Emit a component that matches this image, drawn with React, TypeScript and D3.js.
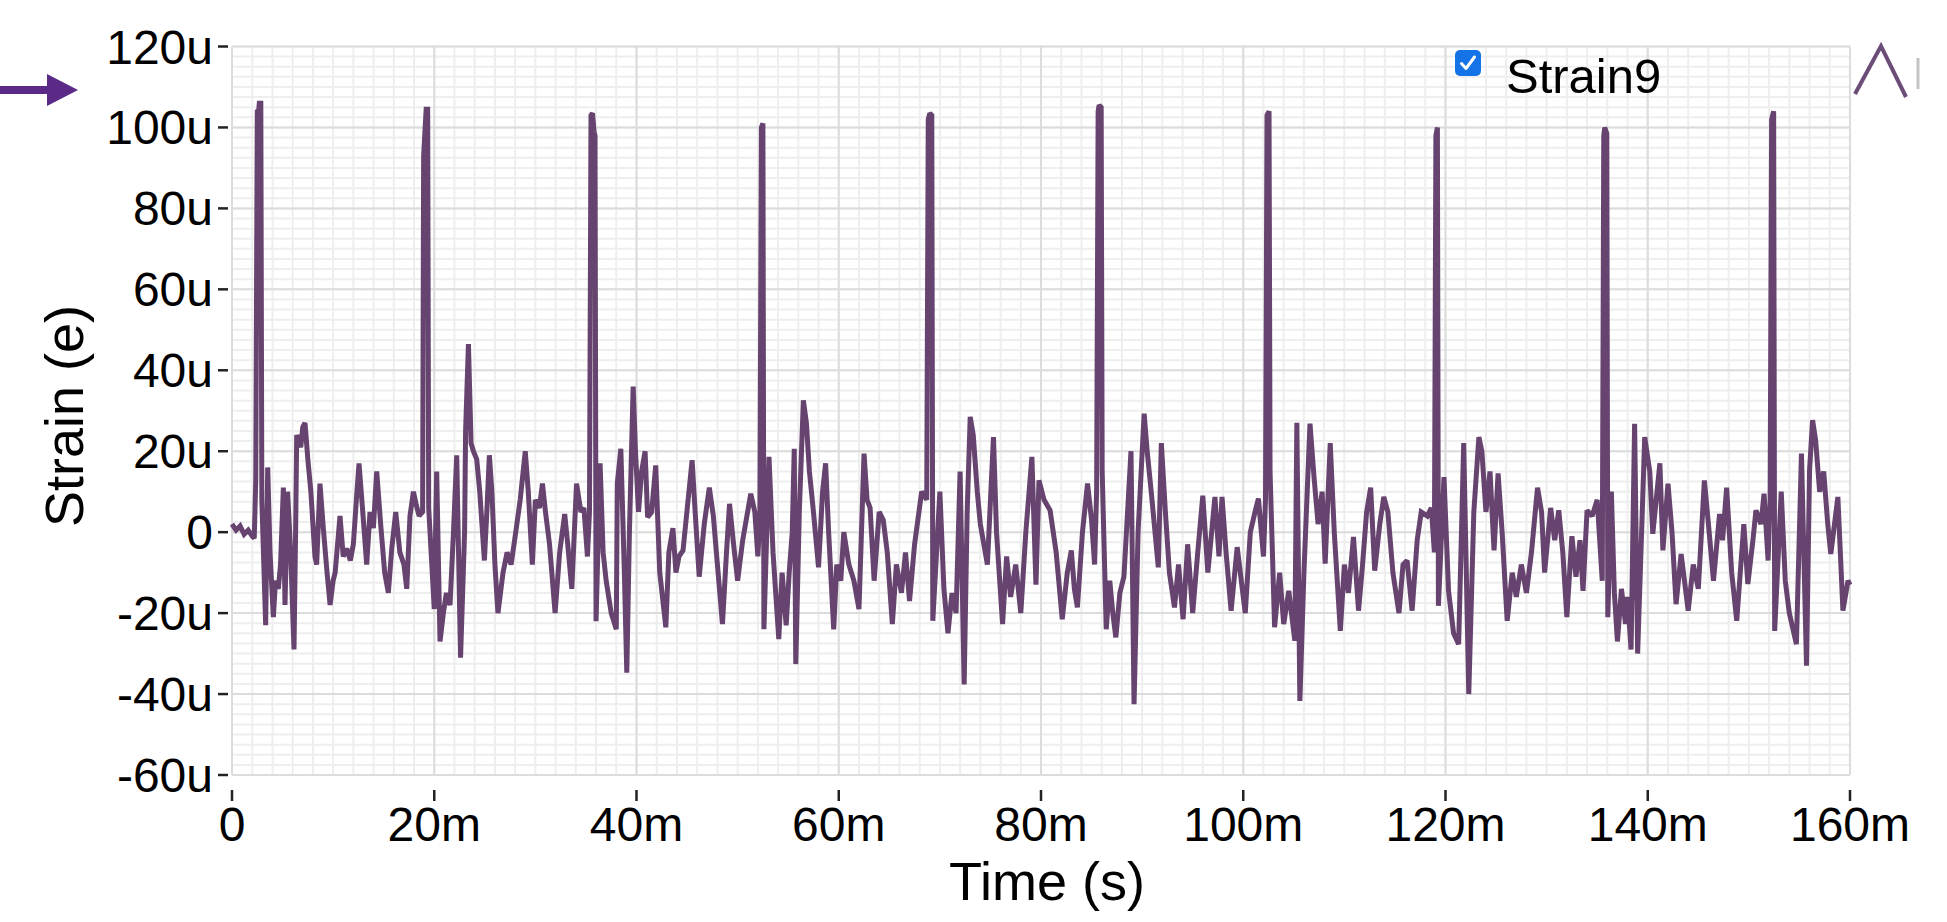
import React from 'react'
import * as d3 from 'd3'

// Strain9 trace: [time (ms), strain (u)]
const strainSamples = [
  [0, 2], [0.4, 0.5], [0.8, 1.5], [1.2, -0.5], [1.6, 0.5], [2.0, -1], [2.2, -1.5],
  [2.35, 13], [2.5, 104], [2.65, 104.5], [2.7, 106], [2.85, 106], [2.95, 8], [3.33, -23],
  [3.53, 16], [3.76, -5], [4.09, -21], [4.3, -12], [4.58, -14], [4.8, -8], [5.08, 11],
  [5.24, -18], [5.5, 10], [5.8, -5], [6.13, -29], [6.3, 2], [6.4, 24], [6.8, 21],
  [7.0, 26], [7.22, 27], [7.5, 18], [7.8, 10], [8.2, -6], [8.37, -8], [8.7, 12],
  [9.03, 1], [9.4, -10], [9.7, -18], [10.0, -12], [10.2, -10], [10.68, 4], [11.0, -6],
  [11.34, -4], [11.7, -7], [12.0, -3], [12.3, 8], [12.56, 17], [12.9, 6], [13.32, -8],
  [13.65, 5], [13.98, 1], [14.31, 15], [14.7, 2], [15.1, -10], [15.46, -15], [15.8, -4],
  [16.19, 5], [16.6, -5], [17.0, -8], [17.28, -14], [17.6, 4], [17.94, 10], [18.2, 7],
  [18.5, 4], [18.85, 5], [18.95, 93], [19.1, 100], [19.2, 104.5], [19.35, 104.5], [19.45, 6],
  [20.0, -19], [20.24, 15], [20.57, -27], [20.9, -20], [21.2, -15], [21.56, -18], [21.9, 0],
  [22.22, 19], [22.6, -31], [23.0, 0], [23.1, 25], [23.38, 46.5], [23.64, 22], [23.87, 20],
  [24.2, 18], [24.5, 10], [24.96, -7], [25.2, 5], [25.45, 19], [25.7, 10], [26.0, -8],
  [26.3, -20], [26.8, -10], [27.2, -5], [27.6, -8], [28.06, 0], [28.5, 8], [29.0, 20],
  [29.3, 10], [29.7, -8], [30.0, 8], [30.4, 6], [30.7, 12], [31.0, 5], [31.4, -3],
  [31.95, -20], [32.4, -5], [32.9, 4.5], [33.2, -3], [33.6, -14], [34.07, 12], [34.5, 5],
  [34.8, 6], [35.15, -6], [35.35, 5], [35.5, 103], [35.65, 103.5], [35.8, 99], [35.9, 98],
  [36.0, -22], [36.4, 17], [36.7, -5], [37.0, -12], [37.5, -20], [38.0, -24], [38.1, 12],
  [38.45, 20.6], [38.8, -10], [39.04, -34.7], [39.3, 0], [39.67, 36], [39.9, 20], [40.2, 5],
  [40.5, 15], [40.85, 20], [41.1, 3.7], [41.5, 5], [41.9, 16.5], [42.3, -10], [42.9, -23.5],
  [43.2, -5], [43.6, 1], [43.9, -10], [44.2, -6], [44.6, -4.5], [45.5, 17.8], [45.8, 5],
  [46.2, -11], [46.7, 2], [47.2, 11], [47.6, 4], [48.0, -8], [48.5, -22.7], [48.9, -5],
  [49.2, 7], [49.6, -3], [50.0, -12], [50.5, -2], [51.3, 9.5], [51.7, 5], [52.0, -6],
  [52.2, 3], [52.35, 100], [52.5, 101], [52.6, -24], [53.1, 18.6], [53.5, -5], [54.07, -26.4],
  [54.4, -10], [54.8, -23], [55.1, -10], [55.4, 0], [55.6, 20.6], [55.75, -32.6], [56.1, 5],
  [56.5, 32.6], [56.8, 27], [57.1, 15], [57.5, 5], [58.0, -8.7], [58.4, 10], [58.7, 17],
  [59.0, 0], [59.5, -24], [59.8, -8], [60.2, -12], [60.5, 0], [61.0, -8], [61.5, -12],
  [62.0, -19], [62.5, 19.4], [62.8, 8], [63.1, 6], [63.5, -12], [64.0, 5], [64.4, 3],
  [64.8, -5], [65.3, -22.7], [65.7, -8], [66.2, -15], [66.6, -5], [67.0, -17], [67.5, -3],
  [68.2, 10], [68.7, 8], [68.85, 102], [69.0, 103.5], [69.2, 103], [69.3, -21.9], [70.0, 10],
  [70.4, -14], [70.8, -25], [71.2, -15], [71.6, -20], [72.0, 15], [72.4, -37.6], [72.7, 5],
  [73.0, 28.5], [73.3, 24], [73.7, 10], [74.0, 2], [74.7, -8], [75.3, 23.5], [75.6, 0],
  [76.2, -22.7], [76.6, -6], [77.0, -16], [77.5, -8], [78.0, -20], [78.5, 0], [79.1, 18.6],
  [79.5, -13], [79.8, 12.8], [80.3, 8], [80.9, 5.4], [81.5, -5], [82.1, -21.5], [82.6, -10],
  [83.0, -4.5], [83.3, -14], [83.6, -18.6], [84.1, 0], [84.6, 12], [85.0, 3], [85.3, -8],
  [85.5, 10], [85.65, 104], [85.75, 105.5], [85.95, 105], [86.05, 15], [86.45, -24], [86.8, -12],
  [87.1, -20], [87.4, -26], [87.8, -15], [88.2, -11], [88.9, 20], [89.2, -42.5], [89.6, 0],
  [90.2, 29.3], [90.5, 20], [90.9, 10], [91.2, 2], [91.6, -8.7], [91.9, 22], [92.3, 5],
  [92.7, -10], [93.2, -18.6], [93.6, -8], [94.05, -21.5], [94.5, -3], [95.0, -20], [95.5, -5],
  [96.0, 9], [96.5, -10], [97.2, 8.7], [97.6, -6], [97.9, 8.7], [98.3, -5], [98.8, -19.4],
  [99.4, -3.7], [100.2, -20], [100.7, 0], [101.2, 5.4], [101.5, 8.3], [102.0, -6], [102.2, 8],
  [102.35, 103], [102.55, 104], [102.65, 15], [103.1, -23.5], [103.6, -10], [104.0, -22.7], [104.5, -14.5],
  [105.1, -26.8], [105.3, 27], [105.6, -41.7], [106.0, -10], [106.6, 26.8], [107.0, 13.6], [107.4, 2],
  [107.8, 10], [108.1, -7.8], [108.6, 22], [109.0, 0], [109.6, -24.4], [110.0, -8], [110.4, -15],
  [110.9, -1.2], [111.4, -19.4], [111.8, -8], [112.2, 5], [112.6, 11], [113.0, -9.5], [113.5, 2],
  [113.9, 8.7], [114.3, 5], [114.8, -10], [115.4, -20], [115.8, -8], [116.2, -7], [116.7, -19.4],
  [117.2, -2], [117.6, 5], [118.2, 4], [118.6, 6], [118.9, -5], [119.05, 98], [119.2, 100],
  [119.3, -18.2], [119.85, 13.6], [120.3, -14.5], [120.8, -25], [121.3, -27.7], [121.8, 22], [122.3, -40],
  [122.8, 5], [123.3, 23.5], [123.6, 20], [124.0, 5], [124.4, 15], [124.8, -4.5], [125.2, 14.5],
  [125.6, 0], [126.1, -21.9], [126.6, -10], [127.0, -16], [127.5, -8], [128.0, -15], [128.5, -5],
  [129.1, 11], [129.5, 5], [129.8, -10], [130.4, 6], [130.8, -2], [131.2, 5.4], [131.6, -5],
  [132.0, -21], [132.5, -1], [132.9, -11], [133.3, -2], [133.6, -14.5], [134.0, 5.4], [134.5, 4],
  [135.0, 8], [135.5, -12], [135.65, 98], [135.75, 100], [135.95, 98.5], [136.05, -21], [136.4, 10],
  [136.7, -15], [137.0, -27], [137.4, -14], [137.8, -22.7], [138.0, -16], [138.35, -29], [138.7, 26.8],
  [139.0, -30], [139.7, 23.5], [140.2, 15], [140.5, -0.4], [141.2, 17], [141.5, -4.5], [142.0, 12],
  [142.4, 0], [142.8, -17.8], [143.3, -5.4], [144.0, -19.4], [144.5, -8], [145.0, -14], [145.6, 12.8],
  [146.0, 2], [146.5, -12], [147.1, 4.5], [147.4, -2], [147.8, 11], [148.3, -10], [148.8, -21.9],
  [149.5, 2], [149.9, -12.8], [150.4, -2], [150.7, 5.4], [151.2, 2], [151.5, 9.5], [151.9, -7],
  [152.1, 8], [152.25, 102], [152.45, 104], [152.55, -24.4], [153.2, 10], [153.6, -12], [154.0, -20],
  [154.7, -27.7], [155.2, 19.4], [155.7, -33], [156.0, 15.3], [156.3, 27.7], [156.6, 22.7], [157.0, 10],
  [157.4, 15], [157.8, 2], [158.1, -5.4], [158.8, 8.7], [159.3, -19.4], [159.8, -12], [160, -13],
]

const xTicks = [0, 20, 40, 60, 80, 100, 120, 140, 160]
const yTicks = [-60, -40, -20, 0, 20, 40, 60, 80, 100, 120]
const seriesName = 'Strain9'
const xTitle = 'Time (s)'
const yTitle = 'Strain (e)'

const marge = { left: 232, right: 1850, top: 46.5, bottom: 775 }
const lineColor = '#66446f'
const font = '"Liberation Sans", Arial, Helvetica, sans-serif'

export default function App() {
  const x = d3.scaleLinear().domain([0, 160]).range([marge.left, marge.right])
  const y = d3.scaleLinear().domain([-60, 120]).range([marge.bottom, marge.top])

  const line = d3.line()
    .x(d => x(d[0]))
    .y(d => y(d[1]))

  const xMinor = d3.range(0, 160.01, 2)
  const yMinor = d3.range(-60, 120.01, 2.5)

  const fmtX = v => (v === 0 ? '0' : `${v}m`)
  const fmtY = v => (v === 0 ? '0' : `${v}u`)

  return (
    <svg width={1947} height={922}
      style={{ position: 'absolute', left: 0, top: 0, display: 'block', background: '#fff' }}
      fontFamily={font}>
      {/* minor grid */}
      <g stroke="#eeeeee" strokeWidth={2}>
        {xMinor.map(v => (
          <line key={'xm' + v} x1={x(v)} x2={x(v)} y1={marge.top} y2={marge.bottom} />
        ))}
        {yMinor.map(v => (
          <line key={'ym' + v} x1={marge.left} x2={marge.right} y1={y(v)} y2={y(v)} />
        ))}
      </g>
      {/* major grid */}
      <g stroke="#dcdcdc" strokeWidth={2}>
        {xTicks.map(v => (
          <line key={'xg' + v} x1={x(v)} x2={x(v)} y1={marge.top} y2={marge.bottom} />
        ))}
        {yTicks.map(v => (
          <line key={'yg' + v} x1={marge.left} x2={marge.right} y1={y(v)} y2={y(v)} />
        ))}
      </g>

      {/* y axis */}
      <g fontSize={48} fill="#000">
        {yTicks.map(v => (
          <g key={'yt' + v}>
            <line x1={218} x2={228} y1={y(v)} y2={y(v)} stroke="#222" strokeWidth={2.5} />
            <text x={213} y={y(v) + 17} textAnchor="end">{fmtY(v)}</text>
          </g>
        ))}
      </g>
      {/* x axis */}
      <g fontSize={48} fill="#000">
        {xTicks.map(v => (
          <g key={'xt' + v}>
            <line x1={x(v)} x2={x(v)} y1={790} y2={801} stroke="#222" strokeWidth={2.5} />
            <text x={x(v)} y={841} textAnchor="middle">{fmtX(v)}</text>
          </g>
        ))}
      </g>

      <text x={1047} y={900} textAnchor="middle" fontSize={54}>{xTitle}</text>
      <text transform="translate(83,416) rotate(-90)" textAnchor="middle" fontSize={54}>{yTitle}</text>

      {/* series */}
      <path d={line(strainSamples)} fill="none" stroke={lineColor} strokeWidth={5}
        strokeLinejoin="miter" strokeMiterlimit={2} />

      {/* legend */}
      <rect x={1455} y={50} width={26} height={26} rx={5} fill="#1473e6" />
      <path d="M1461.5,63.5 L1466,68.5 L1474.5,57" fill="none" stroke="#fff" strokeWidth={3}
        strokeLinecap="round" strokeLinejoin="round" />
      <text x={1506} y={93} fontSize={49}>{seriesName}</text>

      {/* cut-off legend item at the right edge */}
      <path d="M1855,94 L1881,46 L1906,97" fill="none" stroke="#6b4d78" strokeWidth={4} />
      <line x1={1918} x2={1918} y1={58} y2={89} stroke="#c4c4c4" strokeWidth={3} />

      {/* annotation arrow */}
      <line x1={0} x2={50} y1={90} y2={90} stroke="#5b2a86" strokeWidth={8} />
      <path d="M47,74 L78,90 L47,106 Z" fill="#5b2a86" />
    </svg>
  )
}
